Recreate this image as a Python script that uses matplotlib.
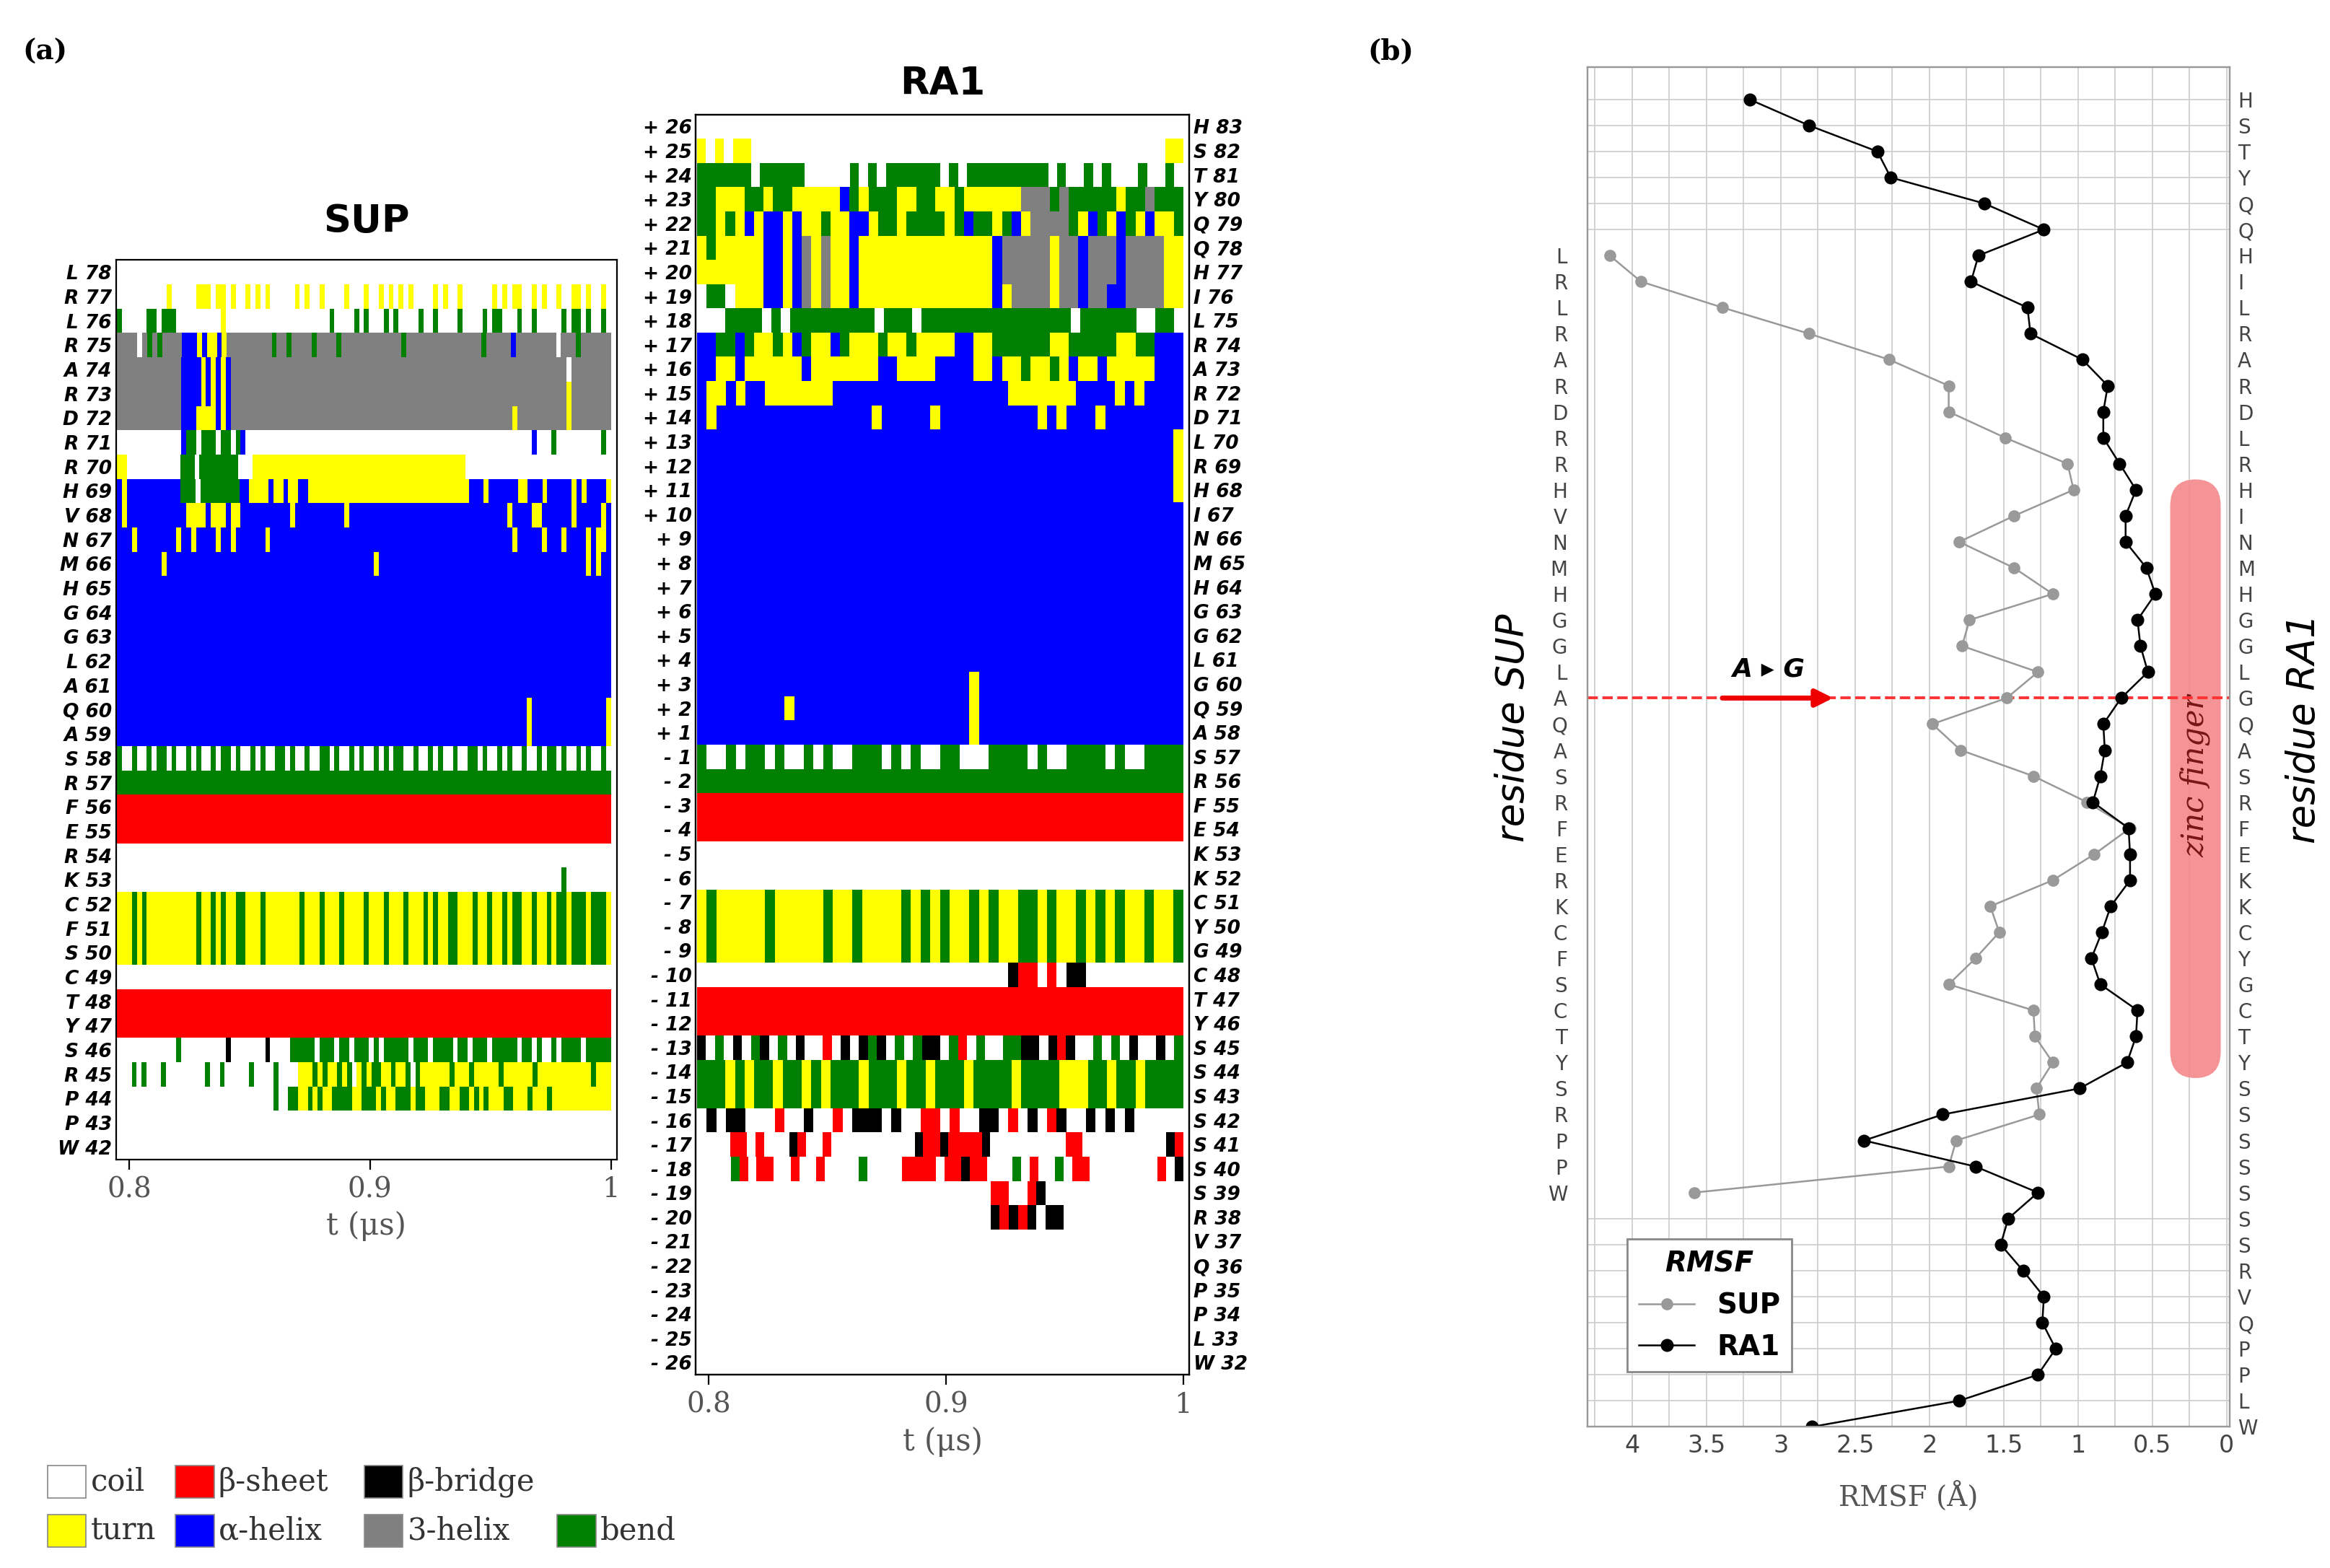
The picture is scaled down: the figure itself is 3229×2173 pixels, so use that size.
import matplotlib
matplotlib.use("Agg")
import matplotlib.pyplot as plt
from matplotlib.patches import Rectangle, FancyBboxPatch
import numpy as np

# ---------------- data ----------------
# DSSP codes: '.' coil, 'T' turn, 'E' beta-sheet, 'B' beta-bridge, 'H' alpha-helix, 'G' 3-helix, 'S' bend
sup_labels = ["L 78","R 77","L 76","R 75","A 74","R 73","D 72","R 71","R 70","H 69","V 68","N 67",
              "M 66","H 65","G 64","G 63","L 62","A 61","Q 60","A 59","S 58","R 57","F 56","E 55",
              "R 54","K 53","C 52","F 51","S 50","C 49","T 48","Y 47","S 46","R 45","P 44","P 43","W 42"]
sup_dssp = [
 "....................................................................................................",
 "..........T.....TTT.TT.T..T.T.T.....T.T..T....T...T..T.T.T.T....T.T..T......T.T.TT..T.T..T..TT.T..T.",
 "S.....SS.SSS.........T.....................S....S.S...S.S....S..S....S....S.SS...S..S.....S.SS.S..S.",
 "GGGG.GSGSGGGGHHHTHTTHTGGGGGGGGGSGGSGGGGSGGGGSGGGGGGGGGGGGSGGGGGGGGGGGGGGGSGGGGGHGGGGGGGG.GGGSGGGGGG",
 "GGGGGGGGGGGGGHHHHTHTHTHGGGGGGGGGGGGGGGGGGGGGGGGGGGGGGGGGGGGGGGGGGGGGGGGGGGGGGGGGGGGGGGGGGGG.GGGGGGGG",
 "GGGGGGGGGGGGGHHHHTHTHTHGGGGGGGGGGGGGGGGGGGGGGGGGGGGGGGGGGGGGGGGGGGGGGGGGGGGGGGGGGGGGGGGGGGGTGGGGGGGG",
 "GGGGGGGGGGGGGHHHTTTTHTHGGGGGGGGGGGGGGGGGGGGGGGGGGGGGGGGGGGGGGGGGGGGGGGGGGGGGGGGGTGGGGGGGGGGTGGGGGGGG",
 ".............HSS.SSS.SS.SH..........................................................H...S.........S.",
 "TT...........SSS.SSSSSSSS...TTTTTTTTTTTTTTTTTTTTTTTTTTTTTTTTTTTTTTTTTTTT..............................",
 "HTHHHHHHHHHHHSSS.SSSSSSSSHHTTTTHTTHTTHHTTTTTTTTTTTTTTTTTTTTTTTTTTTTTTTTTHHHTHHHHHHTTHHHTHHHHHTHTHHHHT",
 "HTHHHHHHHHHHHHTTTTHTTTHTTHHHHHHHHHHTHHHHHHHHHHTHHHHHHHHHHHHHHHHHHHHHHHHHHHHHHHHTHHHHTTHHHHHHTHHHHHTH",
 "HHHTHHHHHHHHTHHTHHHHTHHTHHHHHHTHHHHHHHHHHHHHHHHHHHHHHHHHHHHHHHHHHHHHHHHHHHHHHHHHTHHHHHTHHHTHHHHTHTTH",
 "HHHHHHHHHTHHHHHHHHHHHHHHHHHHHHHHHHHHHHHHHHHHHHHHHHHHTHHHHHHHHHHHHHHHHHHHHHHHHHHHHHHHHHHHHHHHHHHTHTHH",
 "HHHHHHHHHHHHHHHHHHHHHHHHHHHHHHHHHHHHHHHHHHHHHHHHHHHHHHHHHHHHHHHHHHHHHHHHHHHHHHHHHHHHHHHHHHHHHHHHHHHH",
 "HHHHHHHHHHHHHHHHHHHHHHHHHHHHHHHHHHHHHHHHHHHHHHHHHHHHHHHHHHHHHHHHHHHHHHHHHHHHHHHHHHHHHHHHHHHHHHHHHHHH",
 "HHHHHHHHHHHHHHHHHHHHHHHHHHHHHHHHHHHHHHHHHHHHHHHHHHHHHHHHHHHHHHHHHHHHHHHHHHHHHHHHHHHHHHHHHHHHHHHHHHHH",
 "HHHHHHHHHHHHHHHHHHHHHHHHHHHHHHHHHHHHHHHHHHHHHHHHHHHHHHHHHHHHHHHHHHHHHHHHHHHHHHHHHHHHHHHHHHHHHHHHHHHH",
 "HHHHHHHHHHHHHHHHHHHHHHHHHHHHHHHHHHHHHHHHHHHHHHHHHHHHHHHHHHHHHHHHHHHHHHHHHHHHHHHHHHHHHHHHHHHHHHHHHHHH",
 "HHHHHHHHHHHHHHHHHHHHHHHHHHHHHHHHHHHHHHHHHHHHHHHHHHHHHHHHHHHHHHHHHHHHHHHHHHHHHHHHHHHTHHHHHHHHHHHHHHHT",
 "HHHHHHHHHHHHHHHHHHHHHHHHHHHHHHHHHHHHHHHHHHHHHHHHHHHHHHHHHHHHHHHHHHHHHHHHHHHHHHHHHHHTHHHHHHHHHHHHHHHT",
 "S..S..S.SS.S..S.S..S.SS.S..S.S..SS.S..S..SS.S..S.S..S.S.SS..S..S.S..S..SS.S..S.S..S..S.SS.S..S.S..S.",
 "SSSSSSSSSSSSSSSSSSSSSSSSSSSSSSSSSSSSSSSSSSSSSSSSSSSSSSSSSSSSSSSSSSSSSSSSSSSSSSSSSSSSSSSSSSSSSSSSSSSS",
 "EEEEEEEEEEEEEEEEEEEEEEEEEEEEEEEEEEEEEEEEEEEEEEEEEEEEEEEEEEEEEEEEEEEEEEEEEEEEEEEEEEEEEEEEEEEEEEEEEEEE",
 "EEEEEEEEEEEEEEEEEEEEEEEEEEEEEEEEEEEEEEEEEEEEEEEEEEEEEEEEEEEEEEEEEEEEEEEEEEEEEEEEEEEEEEEEEEEEEEEEEEEE",
 "....................................................................................................",
 "..........................................................................................S.........",
 "TTTSTSTTTTTTTTTTSTTSTSTTSSTTTSTTTTTTTSTTTSTTTSTTTTSTTTSTTTSTTTSTSTTSSTTTSTTSTTSTSSTTSTTSTSSTSSSTSSST",
 "TTTSTSTTTTTTTTTTSTTSTSTTSSTTTSTTTTTTTSTTTSTTTSTTTTSTTTSTTTSTTTSTSTTSSTTTSTTSTTSTSSTTSTTSTSSTSSSTSSST",
 "TTTSTSTTTTTTTTTTSTTSTSTTSSTTTSTTTTTTTSTTTSTTTSTTTTSTTTSTTTSTTTSTSTTSSTTTSTTSTTSTSSTTSTTSTSSTSSSTSSST",
 "....................................................................................................",
 "EEEEEEEEEEEEEEEEEEEEEEEEEEEEEEEEEEEEEEEEEEEEEEEEEEEEEEEEEEEEEEEEEEEEEEEEEEEEEEEEEEEEEEEEEEEEEEEEEEEE",
 "EEEEEEEEEEEEEEEEEEEEEEEEEEEEEEEEEEEEEEEEEEEEEEEEEEEEEEEEEEEEEEEEEEEEEEEEEEEEEEEEEEEEEEEEEEEEEEEEEEEE",
 "............S.........B.......B....SSSSS.SSS.SS.SSS.S.SSSSS.SSS.SSSS.SS.SSS.SSSSS.SS.S..S.SSSS.SSSSS",
 "...S.S...S........S..S.....S....S....TTTSTSTTSTS.TSTSSTTSTTS.STTTTTTSTTTSTTTTTSTTTTTTSTTTTTTTTTTTSTTT",
 "................................S..SSTTSTSTTSSSSTTSSSTSTTSSSTSSTTTSSTTSSTSTSTTTSSTTTSTTTSTTTTTTTTTTTT",
 "....................................................................................................",
 "....................................................................................................",
]

ra1_rel = ["+ 26","+ 25","+ 24","+ 23","+ 22","+ 21","+ 20","+ 19","+ 18","+ 17","+ 16","+ 15","+ 14",
           "+ 13","+ 12","+ 11","+ 10","+ 9","+ 8","+ 7","+ 6","+ 5","+ 4","+ 3","+ 2","+ 1",
           "- 1","- 2","- 3","- 4","- 5","- 6","- 7","- 8","- 9","- 10","- 11","- 12","- 13",
           "- 14","- 15","- 16","- 17","- 18","- 19","- 20","- 21","- 22","- 23","- 24","- 25","- 26"]
ra1_labels = ["H 83","S 82","T 81","Y 80","Q 79","Q 78","H 77","I 76","L 75","R 74","A 73","R 72","D 71",
              "L 70","R 69","H 68","I 67","N 66","M 65","H 64","G 63","G 62","L 61","G 60","Q 59","A 58",
              "S 57","R 56","F 55","E 54","K 53","K 52","C 51","Y 50","G 49","C 48","T 47","Y 46","S 45",
              "S 44","S 43","S 42","S 41","S 40","S 39","R 38","V 37","Q 36","P 35","P 34","L 33","W 32"]
ra1_dssp = [
 "....................................................",
 "T.T.TT..............................................TT",
 "SSSSSS.SSSSS.....S.S.SSSSSS.S.SSSSSSSSS.S..S.S...S..S.",
 "SSTTTSSTSSTTTTTHSTSSSTTSSTTSTTTTTTGGGSGSSSSSTSSGSSS",
 "SSTSTHTHHTHTTSTTHHTSSTSSSSTSHSSTSHTGGGGSTHSTHSTHTTS",
 "TSTTTTTHHTHGTGTTHTTTTTTTTTTTTTTHGGGGGTGGHGGGHGGGGTT",
 "TTTTTTTHHTHGTGTTHTTTTTTTTTTTTTTHGGGGGTGGHGGGHGGGGTT",
 ".SS.TTTHHTHGTGTTHTTTTTTTTTTTTTTHTGGGGTGGHGGHHGGGGTT",
 "...SSSS.S.SSSSSSSSS.SSS.SSSSSSSSSSSSSSSS.SSSSSS..SS.",
 "HHSSHSTTSTHSTTHSTTTSTTSTTTTHHTTSSSSSSTTSSSSSTTSSHHH",
 "HHTTHTTTTTTHTTTTTTTHHTTTTHHHHTTHTTSTTSTHTTHTTTTTHHH",
 "HTTHTHHTTTTTTTHHHHHHHHHHHHHHHHHHTTTTTTTHHHHTHTHHHH",
 "HTHHHHHHHHHHHHHHHHTHHHHHTHHHHHHHHHHTHTHHHTHHHHHHHH",
 "HHHHHHHHHHHHHHHHHHHHHHHHHHHHHHHHHHHHHHHHHHHHHHHHHT",
 "HHHHHHHHHHHHHHHHHHHHHHHHHHHHHHHHHHHHHHHHHHHHHHHHHT",
 "HHHHHHHHHHHHHHHHHHHHHHHHHHHHHHHHHHHHHHHHHHHHHHHHHT",
 "HHHHHHHHHHHHHHHHHHHHHHHHHHHHHHHHHHHHHHHHHHHHHHHHHH",
 "HHHHHHHHHHHHHHHHHHHHHHHHHHHHHHHHHHHHHHHHHHHHHHHHHH",
 "HHHHHHHHHHHHHHHHHHHHHHHHHHHHHHHHHHHHHHHHHHHHHHHHHH",
 "HHHHHHHHHHHHHHHHHHHHHHHHHHHHHHHHHHHHHHHHHHHHHHHHHH",
 "HHHHHHHHHHHHHHHHHHHHHHHHHHHHHHHHHHHHHHHHHHHHHHHHHH",
 "HHHHHHHHHHHHHHHHHHHHHHHHHHHHHHHHHHHHHHHHHHHHHHHHHH",
 "HHHHHHHHHHHHHHHHHHHHHHHHHHHHHHHHHHHHHHHHHHHHHHHHHH",
 "HHHHHHHHHHHHHHHHHHHHHHHHHHHHTHHHHHHHHHHHHHHHHHHHHH",
 "HHHHHHHHHTHHHHHHHHHHHHHHHHHHTHHHHHHHHHHHHHHHHHHHHH",
 "HHHHHHHHHHHHHHHHHHHHHHHHHHHHTHHHHHHHHHHHHHHHHHHHHH",
 "S..S.SS.S..S.S..SSS.S.S..SS...SSSS.S..SSSS.S..SSSS",
 "SSSSSSSSSSSSSSSSSSSSSSSSSSSSSSSSSSSSSSSSSSSSSSSSSS",
 "EEEEEEEEEEEEEEEEEEEEEEEEEEEEEEEEEEEEEEEEEEEEEEEEEE",
 "EEEEEEEEEEEEEEEEEEEEEEEEEEEEEEEEEEEEEEEEEEEEEEEEEE",
 "..................................................",
 "..................................................",
 "TSTTTTTSTTTTTSTTSTTTTSTSTSTTSTSTTSSTSTTSTSTSTTSTTS",
 "TSTTTTTSTTTTTSTTSTTTTSTSTSTTSTSTTSSTSTTSTSTSTTSTTS",
 "TSTTTTTSTTTTTSTTSTTTTSTSTSTTSTSTTSSTSTTSTSTSTTSTTS",
 "................................BEE.E.BB..........",
 "EEEEEEEEEEEEEEEEEEEEEEEEEEEEEEEEEEEEEEEEEEEEEEEEEE",
 "EEEEEEEEEEEEEEEEEEEEEEEEEEEEEEEEEEEEEEEEEEEEEEEEEE",
 "B.S.B.SB.S.B..E.B.BSB.S.SBB.SE.S..SSBB.BEB..S.S.B..B.S",
 "SSSTSTSSTSSTSTSSSTSSSTSSTSSSTSSSSTSSSSTTTSSTSSTSSSS",
 "SSSTSTSSTSSTSTSSSTSSSTSSTSSSTSSSSTSSSSTTTSSTSSTSSSS",
 ".B.BB...E..B..E.BBB.B..EE.E..BB.E.B.EB..B.B.B.....",
 "....EE.E...BE..E..........BEEBEEEEB.........EE..........BE",
 "....SE.EE..E..E....S....EEEE.EEBEE...S.E..S.EE........E.B",
 "................................EE..EB...............",
 "................................BEBEB.BB.............",
 "..................................................",
 "..................................................",
 "..................................................",
 "..................................................",
 "..................................................",
 "..................................................",
]

ss_colors = {'.': 'white', 'T': '#ffff00', 'E': '#ff0000', 'B': '#000000',
             'H': '#0000ff', 'G': '#808080', 'S': '#008000'}

rmsf_rows = ["H","S","T","Y","Q","Q","H","I","L","R","A","R","D","L","R","H","I","N","M","H","G","G","L",
             "G","Q","A","S","R","F","E","K","K","C","Y","G","C","T","Y","S","S","S","S","S","S","S","R",
             "V","Q","P","P","L","W"]
sup_letters = ["L","R","L","R","A","R","D","R","R","H","V","N","M","H","G","G","L","A","Q","A","S","R","F",
               "E","R","K","C","F","S","C","T","Y","S","R","P","P","W"]
sup_row_offset = 6
rmsf_ra1 = [3.21,2.81,2.35,2.26,1.63,1.23,1.67,1.72,1.34,1.32,0.97,0.80,0.83,0.83,0.72,0.61,0.68,0.68,
            0.54,0.48,0.60,0.58,0.53,0.71,0.83,0.82,0.85,0.90,0.66,0.65,0.65,0.78,0.84,0.91,0.85,0.60,
            0.61,0.67,0.99,1.91,2.44,1.69,1.27,1.47,1.52,1.37,1.23,1.24,1.15,1.27,1.80,2.79]
rmsf_sup = [4.15,3.94,3.39,2.81,2.27,1.87,1.87,1.49,1.07,1.03,1.43,1.80,1.43,1.17,1.73,1.78,1.27,1.48,
            1.98,1.79,1.30,0.94,0.65,0.89,1.17,1.59,1.53,1.69,1.87,1.30,1.29,1.17,1.28,1.26,1.82,1.87,3.58]

T0, T1 = 0.795, 1.0

# ---------------- figure ----------------
W, H = 1568.0, 1055.0
def fr(x0, y0, x1, y1):
    return [x0 / W, 1 - y1 / H, (x1 - x0) / W, (y1 - y0) / H]

fig = plt.figure(figsize=(16.15, 10.865), dpi=200)
lab_font = dict(fontsize=9.5, fontweight='bold', style='italic', family='DejaVu Sans')

def draw_dssp(ax, rows):
    for i, row in enumerate(rows):
        n = len(row)
        dt = (T1 - T0) / n
        j = 0
        while j < n:
            k = j
            while k < n and row[k] == row[j]:
                k += 1
            if row[j] != '.':
                ax.barh(i, (k - j) * dt, left=T0 + j * dt, height=1.0,
                        color=ss_colors[row[j]], linewidth=0)
            j = k
    ax.set_ylim(len(rows) - 0.5, -0.5)
    ax.set_xlim(0.7945, 1.0025)
    ax.set_xticks([0.8, 0.9, 1.0])
    ax.set_xticklabels(["0.8", "0.9", "1"], fontsize=14, color='#555555', family='DejaVu Serif')
    ax.set_xlabel("t (μs)", fontsize=15, color='#555555', family='DejaVu Serif')
    ax.tick_params(axis='y', length=0, pad=2)
    ax.tick_params(axis='x', length=5)

ax1 = fig.add_axes(fr(78, 175, 415, 780))
draw_dssp(ax1, sup_dssp)
ax1.set_yticks(range(len(sup_labels)))
ax1.set_yticklabels(sup_labels, **lab_font)
ax1.set_title("SUP", fontsize=19, fontweight='bold', pad=14)

ax2 = fig.add_axes(fr(468, 77, 800, 925))
draw_dssp(ax2, ra1_dssp)
ax2.set_yticks(range(len(ra1_rel)))
ax2.set_yticklabels(ra1_rel, **lab_font)
ax2r = ax2.twinx()
ax2r.set_ylim(ax2.get_ylim())
ax2r.set_yticks(range(len(ra1_labels)))
ax2r.set_yticklabels(ra1_labels, **lab_font)
ax2r.tick_params(axis='y', length=0, pad=2)
ax2.set_title("RA1", fontsize=19, fontweight='bold', pad=10)

fig.text(15 / W, 1 - 35 / H, "(a)", fontsize=14, fontweight='bold', family='DejaVu Serif', va='center')
fig.text(920 / W, 1 - 35 / H, "(b)", fontsize=14, fontweight='bold', family='DejaVu Serif', va='center')

# legend of DSSP codes
leg_items = [(32, 997, 'white', 'coil'), (118, 997, ss_colors['E'], 'β-sheet'),
             (245, 997, ss_colors['B'], 'β-bridge'),
             (32, 1030, ss_colors['T'], 'turn'), (118, 1030, ss_colors['H'], 'α-helix'),
             (245, 1030, ss_colors['G'], '3-helix'), (375, 1030, ss_colors['S'], 'bend')]
for x, y, c, t in leg_items:
    fig.patches.append(Rectangle((x / W, 1 - (y + 11) / H), 26 / W, 22 / H, transform=fig.transFigure,
                                 facecolor=c, edgecolor='#888888', linewidth=0.6))
    fig.text((x + 29) / W, 1 - y / H, t, fontsize=15, family='DejaVu Serif', va='center', color='#333333')

# ---------------- RMSF panel ----------------
ax3 = fig.add_axes(fr(1068, 45, 1500, 960))
ys = np.arange(len(rmsf_rows))
ys_sup = np.arange(len(rmsf_sup)) + sup_row_offset
ax3.set_xlim(4.3, -0.02)
ax3.set_ylim(len(rmsf_rows) - 1, -1.25)
ax3.set_xticks(np.arange(0, 4.01, 0.5))
ax3.set_xticklabels(["0", "0.5", "1", "1.5", "2", "2.5", "3", "3.5", "4"], fontsize=12, color='#444444')
ax3.set_xticks(np.arange(0, 4.3, 0.25), minor=True)
ax3.grid(True, which='both', axis='x', color='#cccccc', linewidth=0.6)
ax3.set_yticks(ys, minor=True)
ax3.grid(True, which='minor', axis='y', color='#cccccc', linewidth=0.6)
ax3.set_yticks(ys_sup)
ax3.set_yticklabels(sup_letters, fontsize=10, color='#444444')
ax3.tick_params(axis='y', which='both', length=0, pad=10)
ax3.tick_params(axis='x', which='both', length=0)
for s in ax3.spines.values():
    s.set_color('#999999')
ax3.set_axisbelow(True)
ax3r = ax3.twinx()
ax3r.set_ylim(ax3.get_ylim())
ax3r.set_yticks(ys)
ax3r.set_yticklabels(rmsf_rows, fontsize=10, color='#444444')
ax3r.tick_params(axis='y', length=0, pad=4)
for s in ax3r.spines.values():
    s.set_color('#999999')
ax3.set_xlabel("RMSF (Å)", fontsize=14, color='#555555', family='DejaVu Serif', labelpad=12)

# zinc finger
ax3.add_patch(FancyBboxPatch((0.04, 14.6), 0.34, 23.0, boxstyle="round,pad=0,rounding_size=0.17",
                             mutation_aspect=6, facecolor='#f4898b', edgecolor='none', alpha=0.9, zorder=1))
ax3.text(0.21, 26, "zinc finger", rotation=90, fontsize=15, style='italic', family='DejaVu Serif',
         color='#7a1515', ha='center', va='center', zorder=2)

# A->G line
ax3.axhline(23, color='#ff3333', linestyle='--', linewidth=1.4, zorder=2)
ax3.annotate("", xy=(2.62, 23), xytext=(3.42, 23),
             arrowprops=dict(arrowstyle='-|>', color='#ee0000', lw=2.5, mutation_scale=18), zorder=3)
ax3.text(3.08, 21.9, "A ▸ G", fontsize=13, fontweight='bold', style='italic', ha='center', va='center')

ax3.plot(rmsf_sup, ys_sup, '-o', color='#999999', markersize=5, linewidth=0.9, label='SUP', zorder=4)
ax3.plot(rmsf_ra1, ys, '-o', color='black', markersize=5.5, linewidth=0.9, label='RA1', zorder=5)
leg = ax3.legend(loc='lower left', bbox_to_anchor=(0.04, 0.03), title='RMSF', fontsize=14,
                 title_fontsize=14, frameon=True, fancybox=False, edgecolor='#888888',
                 prop=dict(weight='bold', size=14))
leg.get_title().set_fontweight('bold')
leg.get_title().set_fontstyle('italic')
leg.get_frame().set_alpha(1)
leg.set_zorder(10)

fig.text(1018 / W, 1 - 490 / H, "residue SUP", rotation=90, fontsize=19, style='italic',
         ha='center', va='center')
fig.text(1550 / W, 1 - 490 / H, "residue RA1", rotation=90, fontsize=19, style='italic',
         ha='center', va='center')

fig.savefig("out.png", dpi=200, facecolor='white')
